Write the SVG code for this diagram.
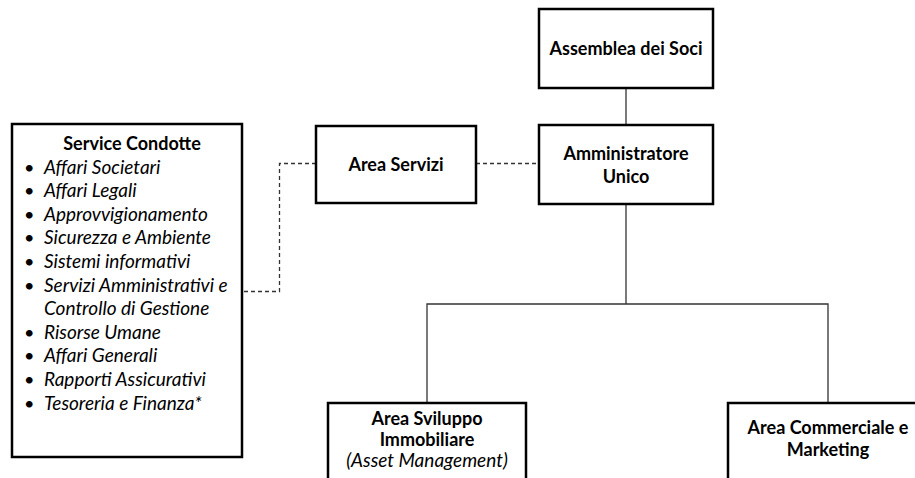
<svg xmlns="http://www.w3.org/2000/svg" width="915" height="478" viewBox="0 0 915 478">
<style>
.box{fill:#fff;stroke:#000;stroke-width:2.5}
.t{font-family:Lato,"Liberation Sans",sans-serif;font-size:18px;fill:#000}
.b{font-weight:bold;text-anchor:middle}
.i{font-style:italic;font-size:19px}
.ln{fill:none;stroke:#333;stroke-width:1.3}
.dl{fill:none;stroke:#333;stroke-width:1.3;stroke-dasharray:4,3}
</style>
<rect width="915" height="478" fill="#fff"/>
<g id="connectors">
<line class="ln" x1="626" y1="88" x2="626" y2="125"/>
<polyline class="ln" points="626,204 626,304"/>
<polyline class="ln" points="427,403 427,304 828,304 828,403"/>
<line class="dl" x1="476" y1="163.5" x2="539" y2="163.5"/>
<polyline class="dl" points="316,163.5 279.5,163.5 279.5,291.5 242,291.5"/>
</g>
<g id="assemblea">
<rect class="box" x="539" y="9" width="174" height="79"/>
<text class="t b" x="626" y="55">Assemblea dei Soci</text>
</g>
<g id="amministratore">
<rect class="box" x="539" y="125" width="174" height="79"/>
<text class="t b" x="626" y="160">Amministratore</text>
<text class="t b" x="626" y="183">Unico</text>
</g>
<g id="area-servizi">
<rect class="box" x="316" y="126" width="160" height="77"/>
<text class="t b" x="396" y="171">Area Servizi</text>
</g>
<g id="service-condotte">
<rect class="box" x="12" y="124" width="230" height="333"/>
<text class="t b" x="132" y="150">Service Condotte</text>
<g class="t">
<text x="24" y="173.5">•</text><text class="i" x="44" y="173.5">Affari Societari</text>
<text x="24" y="197.1">•</text><text class="i" x="44" y="197.1">Affari Legali</text>
<text x="24" y="220.7">•</text><text class="i" x="44" y="220.7">Approvvigionamento</text>
<text x="24" y="244.3">•</text><text class="i" x="44" y="244.3">Sicurezza e Ambiente</text>
<text x="24" y="267.9">•</text><text class="i" x="44" y="267.9">Sistemi informativi</text>
<text x="24" y="291.5">•</text><text class="i" x="44" y="291.5">Servizi Amministrativi e</text>
<text class="i" x="44" y="315.1">Controllo di Gestione</text>
<text x="24" y="338.7">•</text><text class="i" x="44" y="338.7">Risorse Umane</text>
<text x="24" y="362.3">•</text><text class="i" x="44" y="362.3">Affari Generali</text>
<text x="24" y="385.9">•</text><text class="i" x="44" y="385.9">Rapporti Assicurativi</text>
<text x="24" y="409.5">•</text><text class="i" x="44" y="409.5">Tesoreria e Finanza*</text>
</g>
</g>
<g id="area-sviluppo">
<rect class="box" x="328" y="403" width="198" height="90"/>
<text class="t b" x="427" y="425">Area Sviluppo</text>
<text class="t b" x="427" y="446">Immobiliare</text>
<text class="t i" x="427" y="467" text-anchor="middle">(Asset Management)</text>
</g>
<g id="area-commerciale">
<rect class="box" x="728" y="403" width="200" height="90"/>
<text class="t b" x="828" y="434">Area Commerciale e</text>
<text class="t b" x="828" y="456">Marketing</text>
</g>
</svg>
